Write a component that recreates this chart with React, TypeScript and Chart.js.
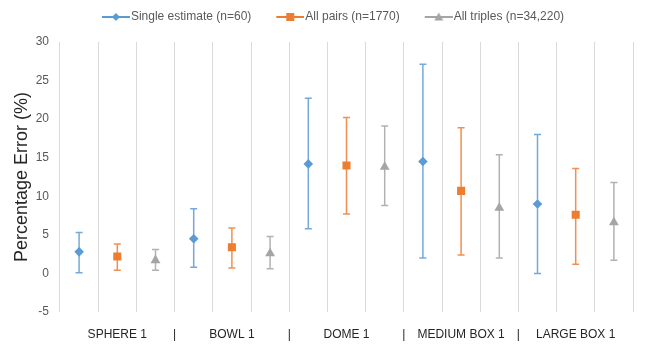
import React, { useEffect, useRef } from "react";
import { Chart, registerables } from "chart.js";

Chart.register(...registerables);

// ---- data ----
const groups = ["SPHERE 1", "BOWL 1", "DOME 1", "MEDIUM BOX 1", "LARGE BOX 1"];
const seriesNames = ["Single estimate (n=60)", "All pairs (n=1770)", "All triples (n=34,220)"];

const singleMean = [2.8, 4.5, 14.2, 14.5, 9.0];
const singleLow = [0.1, 0.8, 5.8, 2.0, 0.0];
const singleHigh = [5.3, 8.4, 22.7, 27.1, 18.0];

const pairsMean = [2.2, 3.4, 14.0, 10.7, 7.6];
const pairsLow = [0.4, 0.7, 7.7, 2.4, 1.2];
const pairsHigh = [3.8, 5.9, 20.2, 18.9, 13.6];

const triplesMean = [1.7, 2.6, 13.8, 8.5, 6.6];
const triplesLow = [0.4, 0.6, 8.8, 2.0, 1.7];
const triplesHigh = [3.1, 4.8, 19.1, 15.4, 11.8];

const yTicksMin = -5;
const yTicksMax = 30;
const yTickStep = 5;

const colors = ["#5B9BD5", "#ED7D31", "#A5A5A5"];
const pointStyles = ["rectRot", "rect", "triangle"];
const pointRadii = [4.8, 5.7, 5.7];

const FONT = "'Liberation Sans', Arial, Helvetica, sans-serif";

// 15 categories: each group has 3 slots (single, pairs, triples)
const categories: string[] = [];
groups.forEach((g) => {
  categories.push("", g, "");
});

function spread(values: number[], slot: number): (number | null)[] {
  const out: (number | null)[] = [];
  values.forEach((v) => {
    for (let s = 0; s < 3; s++) out.push(s === slot ? v : null);
  });
  return out;
}

const means = [singleMean, pairsMean, triplesMean];
const lows = [singleLow, pairsLow, triplesLow];
const highs = [singleHigh, pairsHigh, triplesHigh];

function makeLegendImage(color: string, style: string): HTMLCanvasElement {
  const c = document.createElement("canvas");
  c.width = 50;
  c.height = 12;
  const ctx = c.getContext("2d")!;
  ctx.strokeStyle = color;
  ctx.lineWidth = 2;
  ctx.beginPath();
  ctx.moveTo(22, 6);
  ctx.lineTo(50, 6);
  ctx.stroke();
  ctx.fillStyle = color;
  const cx = 36, cy = 6;
  ctx.beginPath();
  if (style === "rectRot") {
    ctx.moveTo(cx - 4, cy);
    ctx.lineTo(cx, cy - 4);
    ctx.lineTo(cx + 4, cy);
    ctx.lineTo(cx, cy + 4);
  } else if (style === "rect") {
    ctx.rect(cx - 4, cy - 4, 8, 8);
  } else {
    ctx.moveTo(cx, cy - 4.5);
    ctx.lineTo(cx + 4.5, cy + 3.5);
    ctx.lineTo(cx - 4.5, cy + 3.5);
  }
  ctx.closePath();
  ctx.fill();
  return c;
}

const errorBarPlugin = {
  id: "errorBars",
  beforeDatasetsDraw(chart: any) {
    const ctx = chart.ctx;
    const xs = chart.scales.x;
    const ys = chart.scales.y;
    ctx.save();
    ctx.globalAlpha = 0.85;
    means.forEach((m, si) => {
      ctx.strokeStyle = colors[si];
      ctx.lineWidth = 1.5;
      m.forEach((_, gi) => {
        const idx = gi * 3 + si;
        const x = xs.getPixelForValue(idx);
        const yl = ys.getPixelForValue(lows[si][gi]);
        const yh = ys.getPixelForValue(highs[si][gi]);
        ctx.beginPath();
        ctx.moveTo(x, yl);
        ctx.lineTo(x, yh);
        ctx.moveTo(x - 3.5, yl);
        ctx.lineTo(x + 3.5, yl);
        ctx.moveTo(x - 3.5, yh);
        ctx.lineTo(x + 3.5, yh);
        ctx.stroke();
      });
    });
    ctx.restore();
  },
  afterDraw(chart: any) {
    // group separators "|" on the category axis, at boundaries between groups
    const ctx = chart.ctx;
    const xs = chart.scales.x;
    ctx.save();
    ctx.font = `12px ${FONT}`;
    ctx.fillStyle = "#262626";
    ctx.textAlign = "center";
    ctx.textBaseline = "middle";
    for (let g = 1; g < groups.length; g++) {
      const x = (xs.getPixelForValue(g * 3 - 1) + xs.getPixelForValue(g * 3)) / 2;
      ctx.fillText("|", x, 335);
    }
    ctx.restore();
  },
};

export default function App() {
  const ref = useRef<HTMLCanvasElement>(null);

  useEffect(() => {
    document.body.style.margin = "0";
    const canvas = ref.current!;
    const legendImages = colors.map((c, i) => makeLegendImage(c, pointStyles[i]));
    const chart = new Chart(canvas, {
      type: "line",
      data: {
        labels: categories,
        datasets: seriesNames.map((name, si) => ({
          label: name,
          data: spread(means[si], si),
          xAxisID: "x",
          yAxisID: "y",
          showLine: false,
          borderColor: colors[si],
          backgroundColor: colors[si],
          pointStyle: pointStyles[si] as any,
          pointRadius: pointRadii[si],
          pointBorderWidth: 0,
          pointHoverRadius: pointRadii[si],
        })),
      },
      options: {
        responsive: false,
        animation: false,
        events: [],
        layout: { padding: { left: 3, right: 0, top: 3, bottom: 0 } },
        plugins: {
          tooltip: { enabled: false },
          legend: {
            display: true,
            position: "top",
            labels: {
              usePointStyle: true,
              pointStyleWidth: 40,
              padding: 8,
              color: "#595959",
              font: { size: 12, family: FONT },
              generateLabels: () =>
                seriesNames.map((name, si) => ({
                  text: name,
                  pointStyle: legendImages[si] as any,
                  fillStyle: colors[si],
                  strokeStyle: colors[si],
                  lineWidth: 0,
                  hidden: false,
                  datasetIndex: si,
                  fontColor: "#595959",
                })),
            },
          },
        },
        scales: {
          x: {
            type: "category",
            position: "bottom",
            offset: true,
            grid: { display: true, offset: true, color: "#D9D9D9", lineWidth: 1, drawTicks: false },
            border: { display: false },
            ticks: {
              autoSkip: false,
              maxRotation: 0,
              minRotation: 0,
              padding: 15,
              color: "#262626",
              font: { size: 12, family: FONT },
            },
            afterFit: (s: any) => {
              s.height = 34;
            },
          },
          xTop: {
            type: "category",
            position: "top",
            labels: [""],
            display: true,
            grid: { display: false, drawTicks: false },
            border: { display: false },
            ticks: { display: false },
            afterFit: (s: any) => {
              s.height = 9;
            },
          },
          y: {
            type: "linear",
            position: "left",
            min: yTicksMin,
            max: yTicksMax,
            grid: { display: false, drawTicks: false },
            border: { display: false },
            ticks: {
              stepSize: yTickStep,
              padding: 11,
              color: "#595959",
              font: { size: 12, family: FONT },
            },
            title: {
              display: true,
              text: "Percentage Error (%)",
              color: "#262626",
              font: { size: 18, family: FONT },
              padding: { top: 8, bottom: 0 },
            },
            afterFit: (s: any) => {
              s.width = 57;
            },
          },
          yRight: {
            type: "linear",
            position: "right",
            display: true,
            grid: { display: false, drawTicks: false },
            border: { display: false },
            ticks: { display: false },
            afterFit: (s: any) => {
              s.width = 13;
            },
          },
        },
      },
      plugins: [errorBarPlugin],
    });
    return () => chart.destroy();
  }, []);

  return (
    <div style={{ position: "absolute", left: 0, top: 0, width: 646, height: 346, background: "#fff" }}>
      <canvas ref={ref} width={646} height={346} style={{ display: "block" }} />
    </div>
  );
}
